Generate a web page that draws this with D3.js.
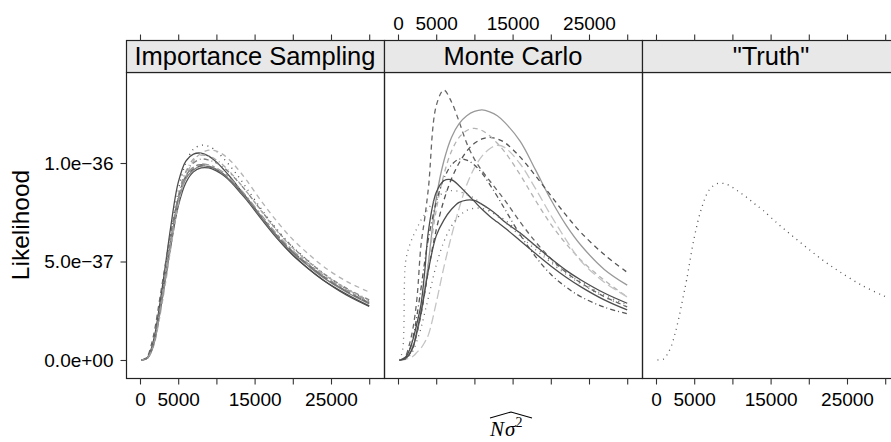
<!DOCTYPE html>
<html>
<head>
<meta charset="utf-8">
<script src="https://cdn.jsdelivr.net/npm/d3@7"></script>
<style>
body{margin:0;background:#fff;}
svg text{font-family:"Liberation Sans",Arial,Helvetica,sans-serif;fill:#000;}
</style>
</head>
<body>
<div id="chart"></div>
<script>
// x grid shared by every curve (N sigma^2)
let xGrid = [200, 600, 1000, 1500, 2000, 2500, 3000, 3500, 4000, 5000, 6000, 7000, 8000, 9000,
    10000, 11000, 12000, 13000, 14000, 16000, 18000, 20000, 22000, 24000, 27000, 30000];

let panelNames = ['Importance Sampling', 'Monte Carlo', '"Truth"'];
let xTicks = [0, 5000, 10000, 15000, 20000, 25000, 30000];
let xTickLabels = ['0', '5000', '', '15000', '', '25000', ''];
let yTicks = [0, 0.5, 1.0];
let yTickLabels = ['0.0e+00', '5.0e\u221237', '1.0e\u221236'];

// likelihood, in units of 1e-36
let is1 = [0, 0.004, 0.015, 0.06, 0.14, 0.26, 0.39, 0.53, 0.67, 0.90, 1.01, 1.045, 1.05, 1.035, 1.005, 0.965, 0.92, 0.87, 0.822, 0.718, 0.618, 0.535, 0.465, 0.405, 0.33, 0.272];
let is2 = [0, 0.003, 0.01, 0.045, 0.11, 0.215, 0.33, 0.45, 0.57, 0.78, 0.90, 0.955, 0.975, 0.975, 0.96, 0.935, 0.9, 0.855, 0.81, 0.71, 0.615, 0.532, 0.465, 0.405, 0.335, 0.275];
let is3 = [0, 0.003, 0.011, 0.048, 0.115, 0.225, 0.34, 0.46, 0.585, 0.80, 0.92, 0.965, 0.985, 0.982, 0.967, 0.942, 0.905, 0.862, 0.817, 0.717, 0.622, 0.543, 0.478, 0.418, 0.345, 0.285];
let is4 = [0, 0.003, 0.012, 0.05, 0.12, 0.235, 0.36, 0.49, 0.63, 0.86, 1.0, 1.07, 1.09, 1.085, 1.06, 1.02, 0.975, 0.925, 0.87, 0.76, 0.66, 0.575, 0.505, 0.44, 0.36, 0.3];
let is5 = [0, 0.002, 0.01, 0.042, 0.1, 0.2, 0.31, 0.43, 0.56, 0.79, 0.93, 1.01, 1.05, 1.065, 1.06, 1.04, 1.005, 0.96, 0.91, 0.8, 0.7, 0.612, 0.54, 0.475, 0.4, 0.345];
let is6 = [0, 0.005, 0.02, 0.08, 0.17, 0.29, 0.41, 0.53, 0.64, 0.82, 0.93, 0.97, 0.985, 0.98, 0.965, 0.94, 0.905, 0.865, 0.82, 0.722, 0.63, 0.55, 0.485, 0.425, 0.35, 0.29];
let is7 = [0, 0.003, 0.012, 0.05, 0.12, 0.23, 0.35, 0.475, 0.61, 0.83, 0.955, 1.0, 1.02, 1.015, 1.0, 0.975, 0.94, 0.898, 0.852, 0.752, 0.655, 0.572, 0.503, 0.44, 0.365, 0.305];
let is8 = [0, 0.003, 0.011, 0.046, 0.11, 0.22, 0.335, 0.46, 0.59, 0.82, 0.955, 1.02, 1.04, 1.035, 1.015, 0.985, 0.945, 0.9, 0.852, 0.75, 0.652, 0.568, 0.5, 0.438, 0.362, 0.3];
let is9 = [0, 0.003, 0.012, 0.05, 0.118, 0.228, 0.345, 0.468, 0.6, 0.815, 0.935, 0.98, 0.992, 0.985, 0.968, 0.942, 0.905, 0.863, 0.818, 0.72, 0.627, 0.548, 0.484, 0.424, 0.35, 0.29];
let is10 = [0, 0.003, 0.011, 0.047, 0.113, 0.222, 0.338, 0.462, 0.59, 0.805, 0.93, 0.978, 0.995, 0.99, 0.975, 0.95, 0.915, 0.873, 0.828, 0.73, 0.636, 0.556, 0.49, 0.43, 0.356, 0.296];

let mc1 = [0, 0.005, 0.02, 0.08, 0.17, 0.32, 0.58, 0.72, 0.88, 1.29, 1.37, 1.31, 1.21, 1.1, 1.02, 0.96, 0.91, 0.86, 0.81, 0.7, 0.6, 0.515, 0.445, 0.39, 0.322, 0.27];
let mc2 = [0, 0.003, 0.01, 0.03, 0.07, 0.14, 0.23, 0.35, 0.5, 0.82, 1.01, 1.13, 1.2, 1.24, 1.262, 1.27, 1.26, 1.24, 1.205, 1.11, 0.965, 0.815, 0.685, 0.58, 0.46, 0.38];
let mc3 = [0, 0.003, 0.01, 0.03, 0.07, 0.14, 0.23, 0.34, 0.46, 0.66, 0.81, 0.92, 1.0, 1.06, 1.1, 1.122, 1.13, 1.122, 1.103, 1.03, 0.935, 0.835, 0.735, 0.645, 0.535, 0.445];
let mc4 = [0, 0.003, 0.01, 0.035, 0.08, 0.15, 0.25, 0.37, 0.5, 0.76, 0.94, 1.06, 1.13, 1.165, 1.176, 1.165, 1.138, 1.1, 1.055, 0.94, 0.81, 0.69, 0.59, 0.505, 0.405, 0.32];
let mc5 = [0, 0.001, 0.003, 0.01, 0.02, 0.04, 0.06, 0.09, 0.13, 0.29, 0.47, 0.63, 0.77, 0.89, 0.975, 1.035, 1.072, 1.09, 1.078, 0.995, 0.87, 0.735, 0.61, 0.5, 0.395, 0.32];
let mc6 = [0, 0.003, 0.012, 0.05, 0.12, 0.23, 0.36, 0.5, 0.62, 0.8, 0.92, 0.99, 1.02, 1.015, 0.99, 0.948, 0.892, 0.83, 0.765, 0.635, 0.525, 0.435, 0.37, 0.32, 0.268, 0.235];
let mc7 = [0, 0.004, 0.015, 0.05, 0.11, 0.19, 0.28, 0.45, 0.66, 0.85, 0.91, 0.915, 0.885, 0.845, 0.805, 0.765, 0.73, 0.7, 0.67, 0.605, 0.54, 0.477, 0.42, 0.37, 0.305, 0.254];
let mc8 = [0, 0.002, 0.008, 0.03, 0.07, 0.15, 0.24, 0.35, 0.46, 0.63, 0.71, 0.765, 0.8, 0.812, 0.81, 0.79, 0.765, 0.735, 0.7, 0.645, 0.58, 0.515, 0.455, 0.405, 0.34, 0.288];
let mc9 = [0, 0.002, 0.006, 0.02, 0.05, 0.1, 0.16, 0.24, 0.32, 0.48, 0.6, 0.68, 0.73, 0.76, 0.77, 0.77, 0.755, 0.735, 0.71, 0.645, 0.575, 0.505, 0.445, 0.395, 0.33, 0.28];
let mc10 = [0, 0.05, 0.5, 0.58, 0.63, 0.67, 0.71, 0.74, 0.77, 0.82, 0.85, 0.86, 0.855, 0.84, 0.82, 0.79, 0.76, 0.73, 0.7, 0.63, 0.56, 0.495, 0.435, 0.385, 0.32, 0.27];

let truth = [0, 0.002, 0.005, 0.03, 0.07, 0.135, 0.215, 0.31, 0.405, 0.62, 0.775, 0.865, 0.895, 0.895, 0.877, 0.85, 0.822, 0.79, 0.76, 0.69, 0.625, 0.562, 0.502, 0.449, 0.378, 0.322];

// line types, lattice style
let DASH = {solid: null, dashed: '5,4', dotted: '1,4.5', dotdash: '1,3,5,3', longdash: '9,4', twodash: '3,3,7,3'};

let isStyle = [
    ['#4d4d4d', 'solid'], ['#4d4d4d', 'solid'], ['#808080', 'solid'], ['#4d4d4d', 'dotted'], ['#b3b3b3', 'dashed'],
    ['#666666', 'dashed'], ['#808080', 'dotdash'], ['#a6a6a6', 'dotdash'], ['#737373', 'longdash'], ['#999999', 'twodash']
];
let mcStyle = [
    ['#666666', 'dashed'], ['#999999', 'solid'], ['#555555', 'dashed'], ['#b3b3b3', 'dashed'], ['#c4c4c4', 'longdash'],
    ['#555555', 'dotdash'], ['#4d4d4d', 'solid'], ['#4d4d4d', 'solid'], ['#666666', 'dotted'], ['#777777', 'dotted']
];
let truthStyle = [['#555555', 'dotted']];

let panels = [
    {series: [is1, is2, is3, is4, is5, is6, is7, is8, is9, is10], style: isStyle},
    {series: [mc1, mc2, mc3, mc4, mc5, mc6, mc7, mc8, mc9, mc10], style: mcStyle},
    {series: [truth], style: truthStyle}
];

let width = 891, height = 442;
let firstLeft = 126, panelWidth = 258;
let stripTop = 40, panelTop = 72, panelBottom = 378;
let frameCol = '#222';

let svg = d3.select('#chart').append('svg')
    .attr('width', width)
    .attr('height', height);

let yScale = d3.scaleLinear()
    .domain([-0.0914, 1.462])
    .range([panelBottom, panelTop]);

panels.forEach(function(p, i){
    let left = firstLeft + i * panelWidth;
    let xScale = d3.scaleLinear()
        .domain([-1832, 31937])
        .range([left, left + panelWidth]);

    svg.append('clipPath').attr('id', 'clip' + i)
        .append('rect')
        .attr('x', left).attr('y', panelTop)
        .attr('width', panelWidth).attr('height', panelBottom - panelTop);

    let line = d3.line()
        .x(function(d, j){ return xScale(xGrid[j]); })
        .y(function(d){ return yScale(d); })
        .curve(d3.curveCatmullRom.alpha(0.5));

    let g = svg.append('g').attr('clip-path', 'url(#clip' + i + ')');
    g.selectAll('path')
        .data(p.series)
        .enter().append('path')
        .attr('d', line)
        .attr('fill', 'none')
        .attr('stroke', function(d, j){ return p.style[j][0]; })
        .attr('stroke-width', 1.3)
        .attr('stroke-dasharray', function(d, j){ return DASH[p.style[j][1]]; });

    // panel frame
    svg.append('rect')
        .attr('x', left + 0.5).attr('y', panelTop + 0.5)
        .attr('width', panelWidth).attr('height', panelBottom - panelTop)
        .attr('fill', 'none').attr('stroke', frameCol).attr('stroke-width', 1.2);

    // strip
    svg.append('rect')
        .attr('x', left + 0.5).attr('y', stripTop + 0.5)
        .attr('width', panelWidth).attr('height', panelTop - stripTop)
        .attr('fill', '#e8e8e8').attr('stroke', frameCol).attr('stroke-width', 1.2);
    svg.append('text')
        .attr('x', left + panelWidth / 2)
        .attr('y', 65)
        .attr('text-anchor', 'middle')
        .style('font-size', '25.5px')
        .text(panelNames[i]);

    // bottom axis: labels on panels 1 and 3, ticks only on 2
    let bottom = d3.axisBottom(xScale)
        .tickValues(xTicks)
        .tickSize(6)
        .tickPadding(8)
        .tickFormat(function(d, j){ return i === 1 ? '' : xTickLabels[j]; });
    svg.append('g')
        .attr('transform', 'translate(0,' + (panelBottom + 0.5) + ')')
        .call(bottom)
        .call(styleAxis);

    // top axis: labels only on panel 2
    let top = d3.axisTop(xScale)
        .tickValues(xTicks)
        .tickSize(6)
        .tickPadding(5)
        .tickFormat(function(d, j){ return i === 1 ? xTickLabels[j] : ''; });
    svg.append('g')
        .attr('transform', 'translate(0,' + (stripTop + 0.5) + ')')
        .call(top)
        .call(styleAxis);
});

let leftAxis = d3.axisLeft(yScale)
    .tickValues(yTicks)
    .tickSize(6)
    .tickPadding(7)
    .tickFormat(function(d, j){ return yTickLabels[j]; });
svg.append('g')
    .attr('transform', 'translate(' + (firstLeft + 0.5) + ',0)')
    .call(leftAxis)
    .call(styleAxis);

function styleAxis(g){
    g.select('.domain').remove();
    g.selectAll('.tick line').attr('stroke', '#333').attr('stroke-width', 1.1);
    g.selectAll('.tick text')
        .style('font-size', '19px')
        .style('font-family', '"Liberation Sans",Arial,Helvetica,sans-serif')
        .attr('fill', '#000');
}

// y label
svg.append('text')
    .attr('transform', 'translate(29,' + ((panelTop + panelBottom) / 2) + ') rotate(-90)')
    .attr('text-anchor', 'middle')
    .style('font-size', '24.5px')
    .text('Likelihood');

// x label: N sigma^2 with a wide hat
let xlab = svg.append('g');
let xt = xlab.append('text')
    .attr('x', 490)
    .attr('y', 436)
    .style('font-family', '"Liberation Serif","DejaVu Serif",serif')
    .style('font-size', '21px')
    .style('font-style', 'italic');
xt.append('tspan').text('N');
xt.append('tspan').attr('dx', 1).text('\u03c3');
xt.append('tspan').attr('dy', -9).style('font-size', '14px').style('font-style', 'normal').text('2');
xlab.append('path')
    .attr('d', 'M490,418 L511,412 L532,418')
    .attr('fill', 'none')
    .attr('stroke', '#000')
    .attr('stroke-width', 1.1);
</script>
</body>
</html>
